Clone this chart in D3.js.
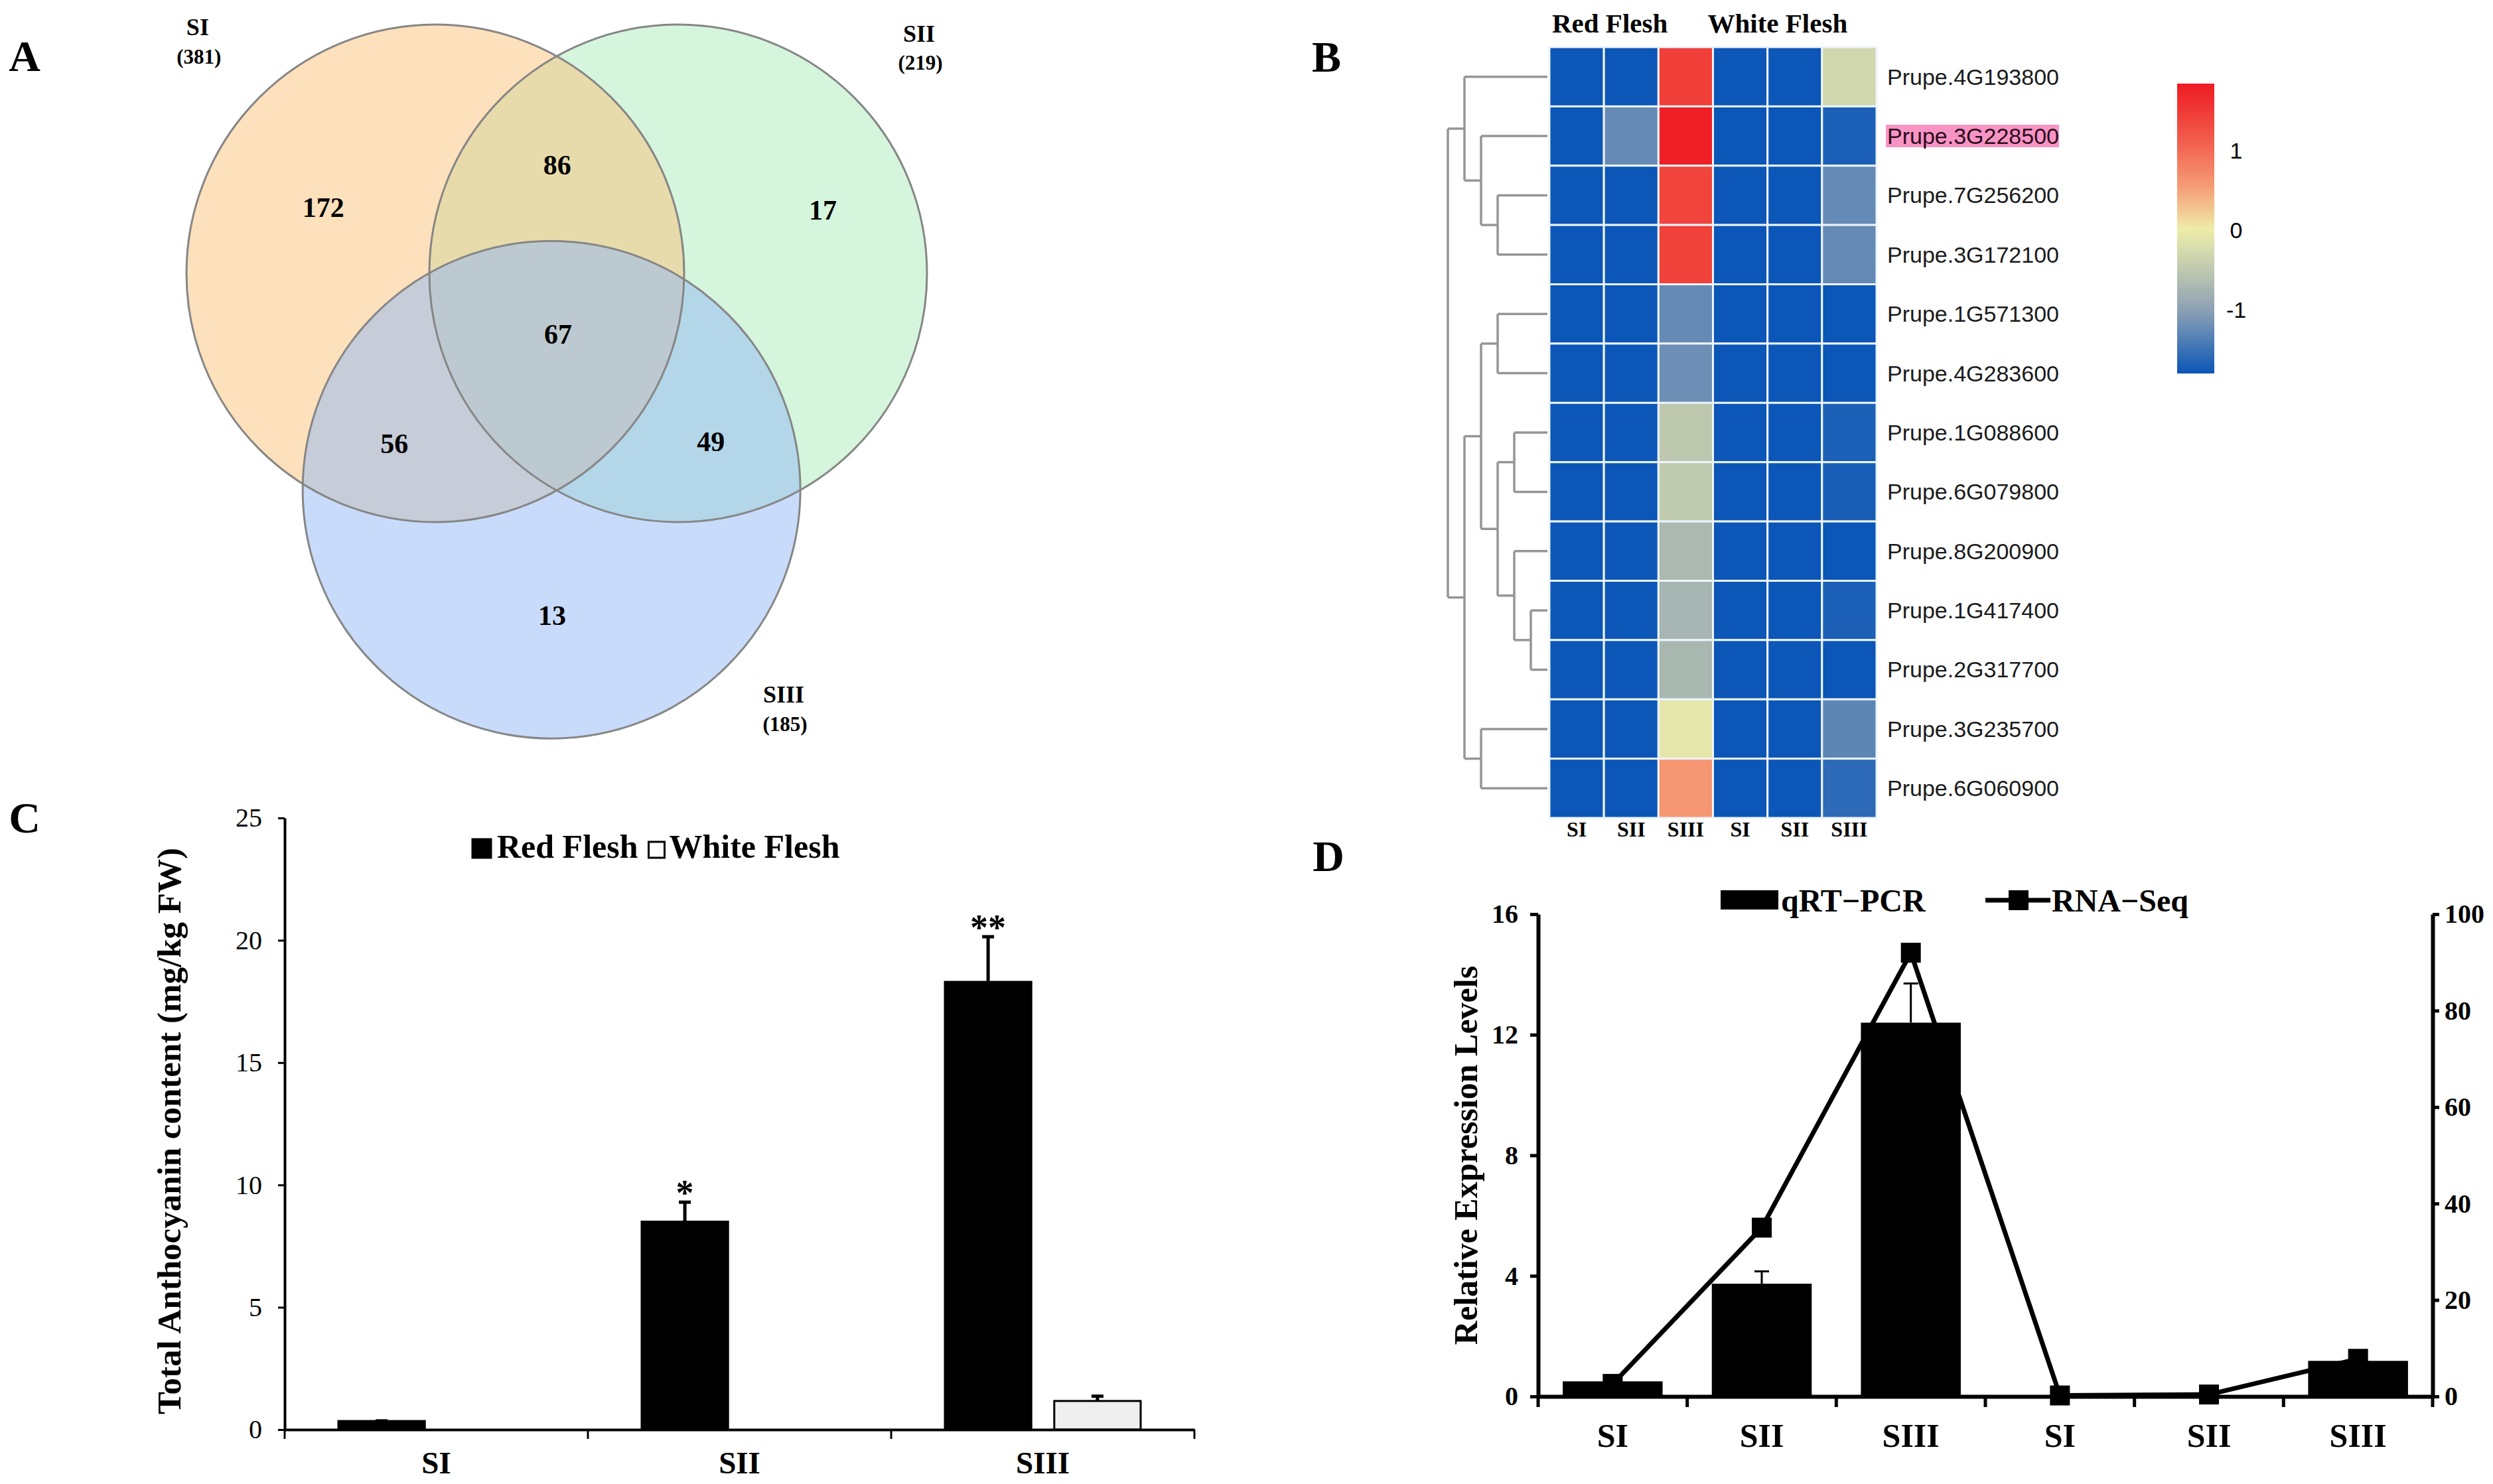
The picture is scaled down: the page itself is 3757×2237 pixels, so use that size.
<!DOCTYPE html>
<html>
<head>
<meta charset="utf-8">
<script src="https://cdn.jsdelivr.net/npm/d3@7"></script>
<style>
  body { margin: 0; background: #fff; }
  svg { display: block; }
</style>
</head>
<body>
<script>
// ---------- A: venn
const vennSets = ["SI", "SII", "SIII"];
const vennTotals = [381, 219, 185];
const vennRegions = ["SI", "SI&SII", "SII", "SI&SII&SIII", "SI&SIII", "SII&SIII", "SIII"];
const vennCounts = [172, 86, 17, 67, 56, 49, 13];

// ---------- B: heatmap
const genes = ["Prupe.4G193800", "Prupe.3G228500", "Prupe.7G256200", "Prupe.3G172100",
  "Prupe.1G571300", "Prupe.4G283600", "Prupe.1G088600", "Prupe.6G079800", "Prupe.8G200900",
  "Prupe.1G417400", "Prupe.2G317700", "Prupe.3G235700", "Prupe.6G060900"];
const highlightGene = "Prupe.3G228500";
const heatCols = ["SI", "SII", "SIII", "SI", "SII", "SIII"];
const heatGroups = ["Red Flesh", "White Flesh"];
const heatValues = [
  [-1.8, -1.8, 1.45, -1.8, -1.8, -0.3],
  [-1.8, -1.25, 1.78, -1.8, -1.8, -1.7],
  [-1.8, -1.8, 1.4, -1.8, -1.8, -1.25],
  [-1.8, -1.8, 1.42, -1.8, -1.8, -1.25],
  [-1.8, -1.8, -1.25, -1.8, -1.8, -1.8],
  [-1.8, -1.8, -1.2, -1.8, -1.8, -1.8],
  [-1.8, -1.8, -0.5, -1.8, -1.8, -1.7],
  [-1.8, -1.8, -0.48, -1.8, -1.8, -1.72],
  [-1.8, -1.8, -0.7, -1.8, -1.8, -1.8],
  [-1.8, -1.8, -0.75, -1.8, -1.8, -1.7],
  [-1.8, -1.8, -0.72, -1.8, -1.8, -1.8],
  [-1.8, -1.8, -0.1, -1.8, -1.8, -1.3],
  [-1.8, -1.8, 0.6, -1.8, -1.8, -1.6],
];
const colorTicks = [-1, 0, 1];
// dendrogram: [height, left, right], leaves are row indices
const dendro = [6,
  [5, 0, [4, 1, [3, 2, 3]]],
  [5, [4, [3, 4, 5], [3, [2, 6, 7], [2, 8, [1, 9, 10]]]], [4, 11, 12]]];

// ---------- C: anthocyanin
const stagesC = ["SI", "SII", "SIII"];
const seriesC = ["Red Flesh", "White Flesh"];
const redFlesh = [0.35, 8.5, 18.3];
const redFleshErr = [0.06, 0.85, 1.9];
const whiteFlesh = [0, 0, 1.17];
const whiteFleshErr = [0, 0, 0.25];
const sigMarks = ["", "*", "**"];
const ticksC = [0, 5, 10, 15, 20, 25];

// ---------- D: qRT-PCR vs RNA-Seq
const samplesD = ["SI", "SII", "SIII", "SI", "SII", "SIII"];
const qrtpcr = [0.5, 3.74, 12.4, 0, 0, 1.18];
const qrtpcrErr = [0.04, 0.41, 1.3, 0, 0, 0.1];
const rnaSeq = [2.6, 35, 92, 0.2, 0.4, 7.8];
const ticksDLeft = [0, 4, 8, 12, 16];
const ticksDRight = [0, 20, 40, 60, 80, 100];

const serif = "Liberation Serif, Times New Roman, serif";
const sans = "Liberation Sans, Arial, sans-serif";

const svg = d3.select("body").append("svg")
  .attr("width", 3757).attr("height", 2237)
  .style("background", "#fff");

function panelLetter(t, x, y) {
  svg.append("text").attr("x", x).attr("y", y)
    .attr("text-anchor", "middle")
    .attr("font-family", serif).attr("font-weight", "bold").attr("font-size", 66)
    .text(t);
}
panelLetter("A", 37, 107);
panelLetter("B", 1999, 108);
panelLetter("C", 37, 1255);
panelLetter("D", 2002, 1313);

// ================= A =================
const vr = 375, vc = [656, 412];
// circle centers and label spots in units of radius, relative to SI center
const vennPos = { SI: [0, 0], SII: [0.976, 0], SIII: [0.467, 0.87] };
const vennFill = { SI: "#fbc179", SII: "#abebbb", SIII: "#91b7f5" };
const vennNamePos = { SI: [-0.955, -0.99], SII: [1.944, -0.965], SIII: [1.4, 1.693] };
const regionPos = {
  "SI": [-0.45, -0.267], "SI&SII": [0.49, -0.437], "SII": [1.557, -0.256],
  "SI&SII&SIII": [0.493, 0.243], "SI&SIII": [-0.165, 0.683], "SII&SIII": [1.107, 0.675],
  "SIII": [0.469, 1.373],
};
const vx = (u) => vc[0] + u * vr;
const vy = (u) => vc[1] + u * vr;

const gA = svg.append("g");
["SII", "SI", "SIII"].forEach((s) => {
  gA.append("circle")
    .attr("cx", vx(vennPos[s][0])).attr("cy", vy(vennPos[s][1])).attr("r", vr)
    .attr("fill", vennFill[s]).attr("fill-opacity", 0.5);
});
vennSets.forEach((s) => {
  gA.append("circle")
    .attr("cx", vx(vennPos[s][0])).attr("cy", vy(vennPos[s][1])).attr("r", vr)
    .attr("fill", "none").attr("stroke", "#868686").attr("stroke-width", 3);
});
gA.selectAll(".count").data(vennRegions).join("text")
  .attr("class", "count")
  .attr("x", (d) => vx(regionPos[d][0]))
  .attr("y", (d) => vy(regionPos[d][1]))
  .attr("dy", "0.35em")
  .attr("text-anchor", "middle")
  .attr("font-family", serif).attr("font-weight", "bold").attr("font-size", 42)
  .text((d, i) => vennCounts[i]);
vennSets.forEach((s, i) => {
  const x = vx(vennNamePos[s][0]), y = vy(vennNamePos[s][1]);
  gA.append("text").attr("x", x).attr("y", y).attr("dy", "0.35em")
    .attr("text-anchor", "middle")
    .attr("font-family", serif).attr("font-weight", "bold").attr("font-size", 36)
    .text(s);
  gA.append("text").attr("x", x + 2).attr("y", y + 44).attr("dy", "0.35em")
    .attr("text-anchor", "middle")
    .attr("font-family", serif).attr("font-weight", "bold").attr("font-size", 31)
    .text(`(${vennTotals[i]})`);
});

// ================= B =================
const heatColor = d3.scaleLinear()
  .domain([-1.8, -1, 0, 0.5, 1, 1.8])
  .range(["#0b56b6", "#8ea2b4", "#eeeeaa", "#f6a27a", "#f26a55", "#ee1d24"])
  .clamp(true);
const xH = d3.scaleBand(d3.range(heatCols.length), [2335, 2828]);
const yH = d3.scaleBand(genes, [71, 1233]);
const gB = svg.append("g");

gB.selectAll(".row").data(heatValues).join("g")
  .attr("class", "row")
  .attr("transform", (d, i) => `translate(0,${yH(genes[i])})`)
  .selectAll("rect").data((d) => d).join("rect")
  .attr("x", (d, j) => xH(j)).attr("y", 0)
  .attr("width", xH.bandwidth()).attr("height", yH.bandwidth())
  .attr("fill", (d) => heatColor(d))
  .attr("stroke", "#eef4fb").attr("stroke-width", 3);

// row labels
const labelX = xH.range()[1] + 16;
const rowLabels = gB.selectAll(".rl").data(genes).join("text")
  .attr("class", "rl")
  .attr("x", labelX)
  .attr("y", (d) => yH(d) + yH.bandwidth() / 2)
  .attr("dy", "0.35em")
  .attr("font-family", sans).attr("font-size", 34)
  .attr("fill", "#1a1a1a")
  .text((d) => d);
rowLabels.filter((d) => d === highlightGene).attr("fill", "#2a0a1c").each(function () {
  const b = this.getBBox();
  gB.insert("rect", ".rl")
    .attr("x", b.x - 2).attr("y", b.y + 2).attr("width", b.width + 2).attr("height", b.height - 4)
    .attr("fill", "#f794c4");
});

// column labels
gB.selectAll(".cl").data(heatCols).join("text")
  .attr("class", "cl")
  .attr("x", (d, j) => xH(j) + xH.bandwidth() / 2)
  .attr("y", 1261)
  .attr("text-anchor", "middle")
  .attr("font-family", serif).attr("font-weight", "bold").attr("font-size", 32)
  .text((d) => d);
heatGroups.forEach((g, k) => {
  gB.append("text")
    .attr("x", xH(k * 3) + (k ? -8 : 4)).attr("y", 49)
    .attr("font-family", serif).attr("font-weight", "bold").attr("font-size", 41)
    .text(g);
});

// dendrogram
const root = d3.hierarchy(dendro, (d) => (Array.isArray(d) ? d.slice(1) : null));
const xDen = d3.scaleLinear([0, 6], [2332, 2182]);
root.eachAfter((n) => {
  if (n.children) {
    n.h = n.data[0];
    n.py = d3.mean(n.children, (c) => c.py);
  } else {
    n.h = 0;
    n.py = yH(genes[n.data]) + yH.bandwidth() / 2;
  }
});
const gDen = gB.append("g").attr("stroke", "#959595").attr("stroke-width", 3.5).attr("fill", "none");
root.each((n) => {
  if (!n.children) return;
  const x = xDen(n.h);
  gDen.append("line").attr("x1", x).attr("x2", x)
    .attr("y1", n.children[0].py).attr("y2", n.children[1].py);
  n.children.forEach((c) => {
    gDen.append("line").attr("x1", x).attr("x2", xDen(c.h))
      .attr("y1", c.py).attr("y2", c.py);
  });
});

// color legend
const cb = d3.scaleLinear([1.84, -1.8], [126, 563]);
const grad = svg.append("defs").append("linearGradient")
  .attr("id", "heatgrad").attr("x1", 0).attr("x2", 0).attr("y1", 0).attr("y2", 1);
d3.range(0, 1.0001, 0.05).forEach((t) => {
  grad.append("stop").attr("offset", t)
    .attr("stop-color", heatColor(cb.invert(126 + t * (563 - 126))));
});
gB.append("rect").attr("x", 3281).attr("y", 126).attr("width", 56).attr("height", 437)
  .attr("fill", "url(#heatgrad)");
gB.selectAll(".cbt").data(colorTicks).join("text")
  .attr("class", "cbt")
  .attr("x", 3370).attr("y", (d) => cb(d)).attr("dy", "0.35em")
  .attr("text-anchor", "middle")
  .attr("font-family", sans).attr("font-size", 34)
  .text((d) => d);

// ================= C =================
const yC = d3.scaleLinear([0, 25], [2155, 1233]);
const xC = d3.scaleBand(stagesC, [429, 1800]);
const xCi = d3.scaleBand(seriesC, [81, 376]).paddingInner(0.21);
const gC = svg.append("g");
const seriesDataC = [
  { name: seriesC[0], vals: redFlesh, errs: redFleshErr, fill: "#000" },
  { name: seriesC[1], vals: whiteFlesh, errs: whiteFleshErr, fill: "#efefef" },
];

seriesDataC.forEach((s) => {
  stagesC.forEach((st, i) => {
    const v = s.vals[i];
    if (v <= 0) return;
    const x = xC(st) + xCi(s.name);
    const cx = x + xCi.bandwidth() / 2;
    const eTop = yC(v + s.errs[i]);
    gC.append("line").attr("x1", cx).attr("x2", cx)
      .attr("y1", yC(v)).attr("y2", eTop).attr("stroke", "#000").attr("stroke-width", 5);
    gC.append("line").attr("x1", cx - 9).attr("x2", cx + 9)
      .attr("y1", eTop + 2).attr("y2", eTop + 2).attr("stroke", "#000").attr("stroke-width", 5);
    gC.append("rect")
      .attr("x", x).attr("y", yC(v))
      .attr("width", xCi.bandwidth()).attr("height", yC(0) - yC(v))
      .attr("fill", s.fill).attr("stroke", "#000").attr("stroke-width", 3);
    if (s.name === seriesC[0] && sigMarks[i]) {
      gC.append("text").attr("x", cx).attr("y", eTop + 6)
        .attr("text-anchor", "middle")
        .attr("font-family", serif).attr("font-weight", "bold").attr("font-size", 54)
        .text(sigMarks[i]);
    }
  });
});

const gyC = gC.append("g").attr("transform", `translate(${xC.range()[0]},0)`)
  .call(d3.axisLeft(yC).tickValues(ticksC).tickSize(10).tickSizeOuter(0).tickPadding(24))
  .attr("font-family", serif).attr("font-size", 40);
gyC.select(".domain").attr("stroke-width", 4);
gyC.selectAll(".tick line").attr("stroke-width", 3);

const gxC = gC.append("g").attr("transform", `translate(0,${yC(0)})`)
  .call(d3.axisBottom(xC).tickSize(0).tickSizeOuter(0).tickPadding(33))
  .attr("font-family", serif).attr("font-size", 47).attr("font-weight", "bold");
gxC.select(".domain").attr("stroke-width", 4);
gxC.selectAll(".bnd").data([...stagesC.map((d) => xC(d)), xC.range()[1]]).join("line")
  .attr("class", "bnd").attr("x1", (d) => d).attr("x2", (d) => d)
  .attr("y1", 0).attr("y2", 14).attr("stroke", "#000").attr("stroke-width", 3);

gC.append("text")
  .attr("transform", `translate(272,1705) rotate(-90)`)
  .attr("text-anchor", "middle")
  .attr("font-family", serif).attr("font-weight", "bold").attr("font-size", 51)
  .text("Total Anthocyanin content (mg/kg FW)");

// legend C
let lx = 712;
seriesDataC.forEach((s, k) => {
  const sz = k ? 24 : 28;
  gC.append("rect").attr("x", lx + (k ? 2 : 0)).attr("y", 1293 - sz).attr("width", sz).attr("height", sz)
    .attr("fill", k ? "#fff" : "#000").attr("stroke", "#000").attr("stroke-width", 3);
  const t = gC.append("text").attr("x", lx + sz + 9).attr("y", 1293)
    .attr("font-family", serif).attr("font-weight", "bold").attr("font-size", 50)
    .text(s.name);
  lx += sz + 9 + t.node().getComputedTextLength() + 14;
});

// ================= D =================
const yD = d3.scaleLinear([0, 16], [2105, 1378]);
const yR = d3.scaleLinear([0, 100], [2105, 1378]);
const xD = d3.scaleBand(d3.range(samplesD.length), [2318, 3666]);
const barW = xD.bandwidth() * 0.67;
const gD = svg.append("g");

qrtpcr.forEach((v, i) => {
  if (v <= 0) return;
  const cx = xD(i) + xD.bandwidth() / 2;
  const eTop = yD(v + qrtpcrErr[i]);
  gD.append("line").attr("x1", cx).attr("x2", cx).attr("y1", yD(v)).attr("y2", eTop)
    .attr("stroke", "#000").attr("stroke-width", 3);
  gD.append("line").attr("x1", cx - 11).attr("x2", cx + 11).attr("y1", eTop).attr("y2", eTop)
    .attr("stroke", "#000").attr("stroke-width", 3);
  gD.append("rect").attr("x", cx - barW / 2).attr("y", yD(v))
    .attr("width", barW).attr("height", yD(0) - yD(v)).attr("fill", "#000");
});

const lineD = d3.line().x((d, i) => xD(i) + xD.bandwidth() / 2).y((d) => yR(d));
gD.append("path").datum(rnaSeq).attr("d", lineD)
  .attr("fill", "none").attr("stroke", "#000").attr("stroke-width", 7).attr("stroke-linejoin", "miter");
gD.selectAll(".mk").data(rnaSeq).join("rect")
  .attr("class", "mk")
  .attr("x", (d, i) => xD(i) + xD.bandwidth() / 2 - 15)
  .attr("y", (d) => yR(d) - 15)
  .attr("width", 30).attr("height", 30).attr("fill", "#000");

const gyD = gD.append("g").attr("transform", `translate(${xD.range()[0]},0)`)
  .call(d3.axisLeft(yD).tickValues(ticksDLeft).tickSize(12).tickSizeOuter(0).tickPadding(18))
  .attr("font-family", serif).attr("font-size", 40).attr("font-weight", "bold");
gyD.select(".domain").attr("stroke-width", 6);
gyD.selectAll(".tick line").attr("stroke-width", 5);

const gyR = gD.append("g").attr("transform", `translate(${xD.range()[1]},0)`)
  .call(d3.axisRight(yR).tickValues(ticksDRight).tickSize(10).tickSizeOuter(0).tickPadding(8))
  .attr("font-family", serif).attr("font-size", 40).attr("font-weight", "bold");
gyR.select(".domain").attr("stroke-width", 6);
gyR.selectAll(".tick line").attr("stroke-width", 5);

const gxD = gD.append("g").attr("transform", `translate(0,${yD(0)})`)
  .call(d3.axisBottom(xD).tickSize(0).tickSizeOuter(0).tickPadding(40).tickFormat((i) => samplesD[i]))
  .attr("font-family", serif).attr("font-size", 50).attr("font-weight", "bold");
gxD.select(".domain").attr("stroke-width", 6);
gxD.selectAll(".bnd").data([...xD.domain().map((d) => xD(d)), xD.range()[1]]).join("line")
  .attr("class", "bnd").attr("x1", (d) => d).attr("x2", (d) => d)
  .attr("y1", 0).attr("y2", 16).attr("stroke", "#000").attr("stroke-width", 5);

gD.append("text")
  .attr("transform", `translate(2226,${(yD(0) + yD(16)) / 2}) rotate(-90)`)
  .attr("text-anchor", "middle")
  .attr("font-family", serif).attr("font-weight", "bold").attr("font-size", 50)
  .text("Relative Expression Levels");

// legend D
gD.append("rect").attr("x", 2593).attr("y", 1342).attr("width", 87).attr("height", 29).attr("fill", "#000");
gD.append("text").attr("x", 2684).attr("y", 1374)
  .attr("font-family", serif).attr("font-weight", "bold").attr("font-size", 48)
  .text("qRT\u2212PCR");
gD.append("line").attr("x1", 2992).attr("x2", 3090).attr("y1", 1357).attr("y2", 1357)
  .attr("stroke", "#000").attr("stroke-width", 7);
gD.append("rect").attr("x", 3027).attr("y", 1342).attr("width", 30).attr("height", 30).attr("fill", "#000");
gD.append("text").attr("x", 3092).attr("y", 1374)
  .attr("font-family", serif).attr("font-weight", "bold").attr("font-size", 48)
  .text("RNA\u2212Seq");
</script>
</body>
</html>
